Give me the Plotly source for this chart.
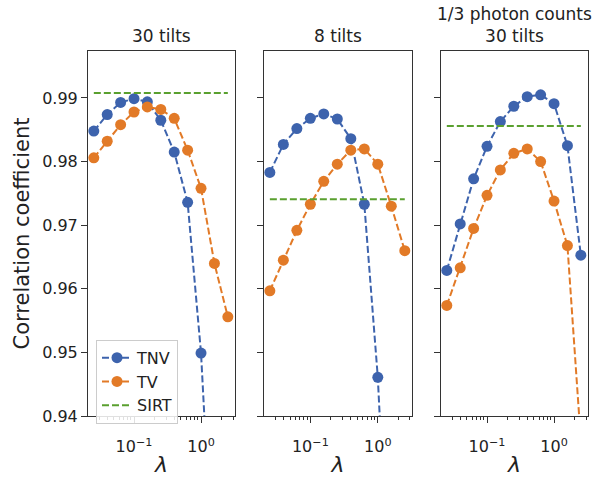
import plotly.graph_objects as go

lam = [0.0251, 0.0398, 0.0631, 0.1, 0.158, 0.251, 0.398, 0.631, 1.0, 1.585, 2.512]

tnv_30 = [0.9848, 0.9874, 0.9893, 0.9899, 0.9894, 0.9865, 0.9815, 0.9736, 0.9499, 0.917, 0.87]
tv_30 = [0.9806, 0.9832, 0.9858, 0.9878, 0.9886, 0.9882, 0.9868, 0.9818, 0.9758, 0.9640, 0.9556]
sirt_30 = 0.9908

tnv_8 = [0.9783, 0.9827, 0.9852, 0.9868, 0.9875, 0.9867, 0.9836, 0.9733, 0.9461, 0.911, 0.86]
tv_8 = [0.9597, 0.9645, 0.9692, 0.9733, 0.9769, 0.9796, 0.9818, 0.9820, 0.9796, 0.9730, 0.9660]
sirt_8 = 0.9741

tnv_low = [0.9629, 0.9702, 0.9773, 0.9824, 0.9863, 0.9887, 0.9902, 0.9905, 0.9891, 0.9825, 0.9653]
tv_low = [0.9574, 0.9633, 0.9695, 0.9747, 0.9787, 0.9813, 0.9820, 0.9800, 0.9738, 0.9668, 0.9362]
sirt_low = 0.9856

titles = ["30 tilts", "8 tilts", "1/3 photon counts<br>30 tilts"]
y_ticks = [0.94, 0.95, 0.96, 0.97, 0.98, 0.99]
y_tick_text = ["0.94", "0.95", "0.96", "0.97", "0.98", "0.99"]
x_ticks = [0.1, 1.0]
x_tick_text = ["10<sup>\u22121</sup>", "10<sup>0</sup>"]

BLUE = "#3d63ad"
ORANGE = "#e27a27"
GREEN = "#5aa02f"
FONT = "DejaVu Sans"
W, H = 602, 478

panels_px = [(88, 235), (264, 412), (441, 588)]
top_px, bot_px = 52, 425
ydom = [1 - bot_px / H, 1 - top_px / H]

minor_vals = [m * 10.0 ** e for e in (-2, -1, 0) for m in range(2, 10)]
minor_vals = [v for v in minor_vals if 0.02 <= v <= 3.3]

data = [(tnv_30, tv_30, sirt_30), (tnv_8, tv_8, sirt_8), (tnv_low, tv_low, sirt_low)]

fig = go.Figure()
dash = "7px,3px"
for i, (tnv, tv, sirt) in enumerate(data):
    xa = "x" if i == 0 else f"x{i+1}"
    ya = "y" if i == 0 else f"y{i+1}"
    show = i == 0
    fig.add_trace(go.Scatter(x=lam, y=tnv, mode="lines+markers", name="TNV",
                             line=dict(color=BLUE, width=2, dash=dash),
                             marker=dict(color=BLUE, size=11),
                             xaxis=xa, yaxis=ya, showlegend=show, cliponaxis=True))
    fig.add_trace(go.Scatter(x=lam, y=tv, mode="lines+markers", name="TV",
                             line=dict(color=ORANGE, width=2, dash=dash),
                             marker=dict(color=ORANGE, size=11),
                             xaxis=xa, yaxis=ya, showlegend=show, cliponaxis=True))
    fig.add_trace(go.Scatter(x=[lam[0], lam[-1]], y=[sirt, sirt], mode="lines", name="SIRT",
                             line=dict(color=GREEN, width=2, dash=dash),
                             xaxis=xa, yaxis=ya, showlegend=show))

layout = dict(
    width=W, height=H,
    margin=dict(l=0, r=0, t=0, b=0),
    paper_bgcolor="white", plot_bgcolor="white",
    font=dict(family=FONT, color="#222222", size=16),
    showlegend=True,
    legend=dict(x=96 / W, y=1 - 347 / H, xanchor="left", yanchor="top",
                bordercolor="#cccccc", borderwidth=1, bgcolor="rgba(255,255,255,0.85)",
                font=dict(size=16, family=FONT), tracegroupgap=0, itemwidth=30),
)

for i, (l, r) in enumerate(panels_px):
    sfx = "" if i == 0 else str(i + 1)
    xa = dict(
        domain=[l / W, r / W], type="log", range=[-1.687, 0.507],
        anchor="y" + sfx,
        showgrid=False, zeroline=False,
        showline=True, linecolor="#333333", linewidth=1, mirror=True,
        ticks="outside", ticklen=6, tickwidth=1, tickcolor="#333333",
        tickmode="array", tickvals=x_ticks, ticktext=x_tick_text,
        tickfont=dict(size=16, family=FONT), ticklabelstandoff=10,
        minor=dict(tickmode="array", tickvals=minor_vals, ticks="outside",
                   ticklen=3, tickwidth=1, tickcolor="#333333", showgrid=False),
        title=dict(text="<i>\u03bb</i>", font=dict(size=22, family=FONT), standoff=1),
    )
    ya = dict(
        domain=ydom, range=[0.94, 0.9974], anchor="x" + sfx,
        showgrid=False, zeroline=False,
        showline=True, linecolor="#333333", linewidth=1, mirror=True,
        ticks="outside", ticklen=6, tickwidth=1, tickcolor="#333333",
        tickmode="array", tickvals=y_ticks, ticktext=y_tick_text,
        showticklabels=(i == 0),
        tickfont=dict(size=16, family=FONT),
    )
    if i == 0:
        ya["title"] = dict(text="Correlation coefficient", font=dict(size=21, family=FONT), standoff=6)
    layout["xaxis" + sfx] = xa
    layout["yaxis" + sfx] = ya

fig.update_layout(**layout)

# panel titles
for i, (l, r) in enumerate(panels_px):
    cx = (l + r) / 2 / W
    fig.add_annotation(text=titles[i], x=cx, y=1 - 49 / H, xref="paper", yref="paper",
                       xanchor="center", yanchor="bottom", showarrow=False,
                       font=dict(size=17, family=FONT, color="#222222"))

fig.write_html("out.html")
